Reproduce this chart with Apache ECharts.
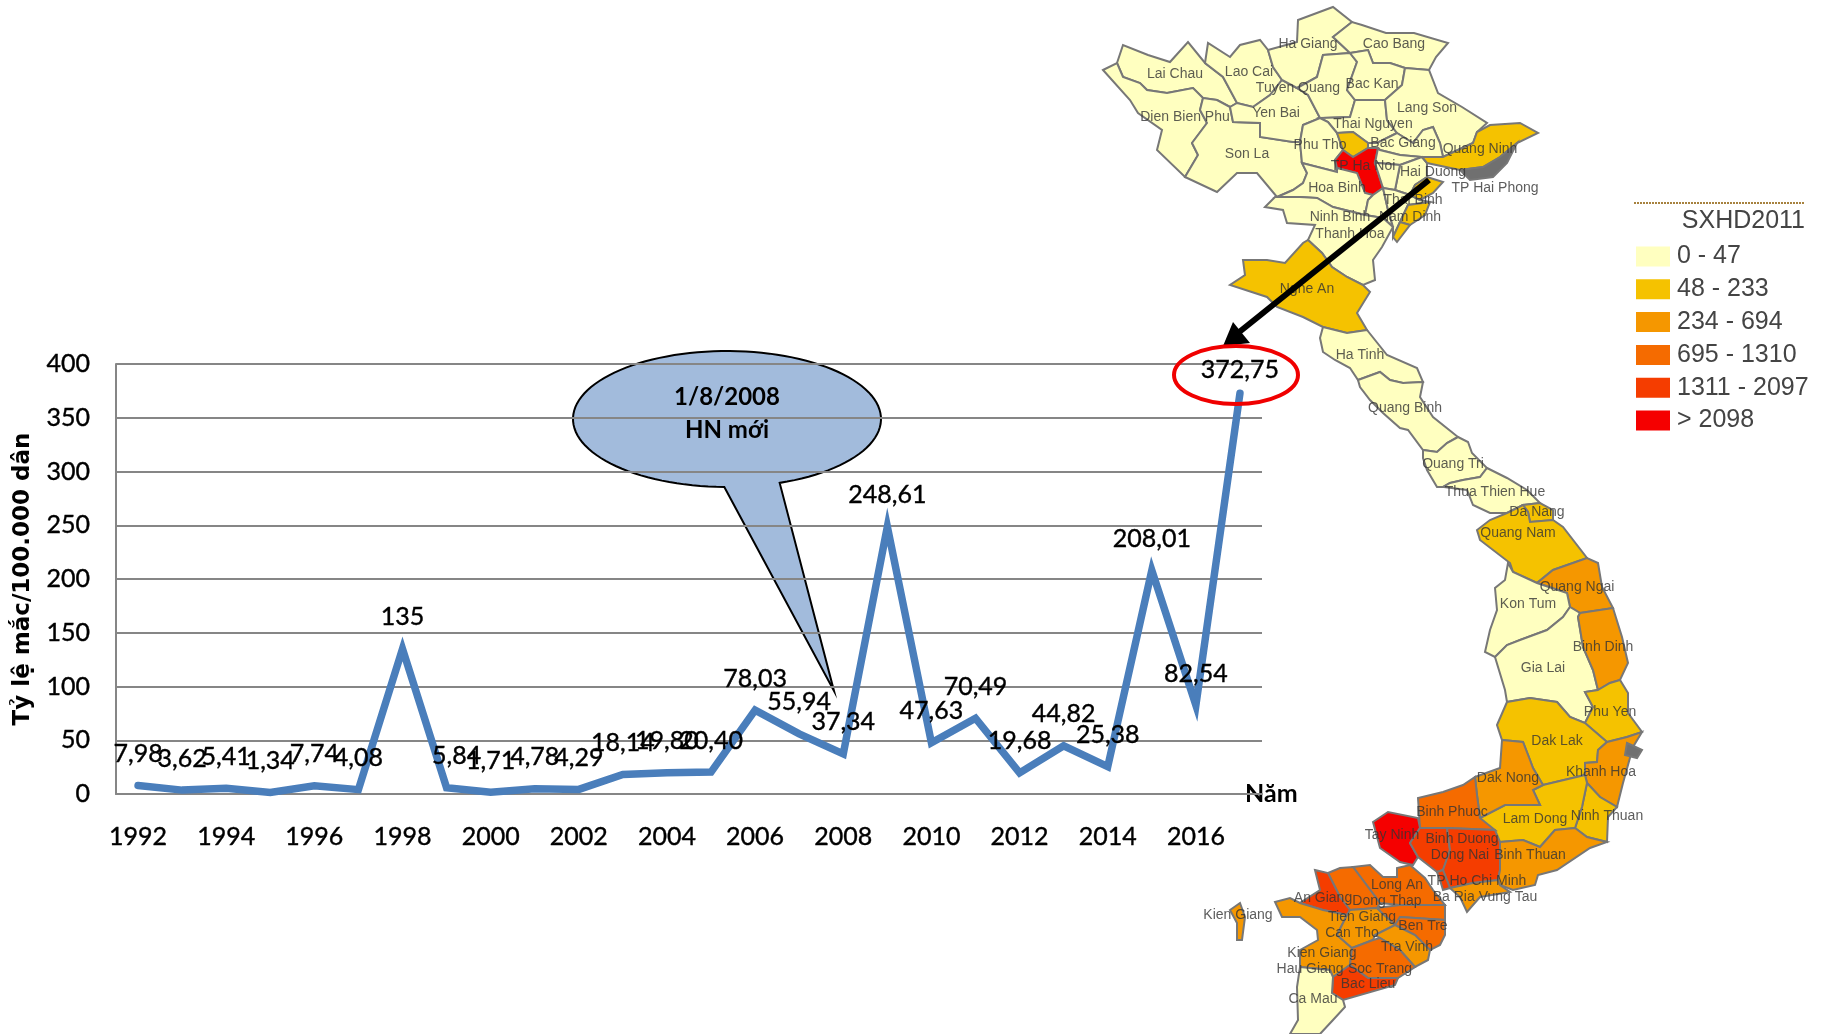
<!DOCTYPE html>
<html>
<head>
<meta charset="utf-8">
<title>Tỷ lệ mắc</title>
<script src="https://cdn.jsdelivr.net/npm/echarts@6/dist/echarts.min.js"></script>
<style>
  html, body { margin: 0; padding: 0; background: #fff; }
  #main { width: 1829px; height: 1034px; }
</style>
</head>
<body>
<div id="main"></div>
<script>
// so lieu bieu do duong
const years = ['1992','1993','1994','1995','1996','1997','1998','1999','2000','2001','2002','2003','2004','2005','2006','2007','2008','2009','2010','2011','2012','2013','2014','2015','2016','2017']
const rates = [7.98,3.62,5.41,1.34,7.74,4.08,135,5.84,1.71,4.78,4.29,18.14,19.80,20.40,78.03,55.94,37.34,248.61,47.63,70.49,19.68,44.82,25.38,208.01,82.54,372.75]
const rateLabels = ['7,98','3,62','5,41','1,34','7,74','4,08','135','5,84','1,71','4,78','4,29','18,14','19,80','20,40','78,03','55,94','37,34','248,61','47,63','70,49','19,68','44,82','25,38','208,01','82,54','372,75']
const yTicks = [0,50,100,150,200,250,300,350,400]

// chu giai ban do
const bandLabels = ['0 - 47','48 - 233','234 - 694','695 - 1310','1311 - 2097','> 2098']
const bandColors = ['#FFFFC0','#F5C200','#F59700','#F56B00','#F53D00','#F50000']

// nhom cua tung tinh (0-5 theo chu giai), doc tu mau tren anh
const provinceBands = {
  'Lai Chau':0,'Dien Bien':0,'Son La':0,'Lao Cai':0,'Yen Bai':0,'Ha Giang':0,'Tuyen Quang':0,'Cao Bang':0,'Bac Kan':0,
  'Thai Nguyen':0,'Lang Son':0,'Bac Giang':0,'Phu Tho':0,'Vinh Phuc':1,'Ha Noi':5,'Hoa Binh':0,'Bac Ninh':0,'Hai Duong':0,
  'Hung Yen':0,'Ninh Binh':0,'Nam Dinh':0,'Quang Ninh':1,'Hai Phong':1,'Thai Binh':1,'Nam Dinh Bien':1,'Thanh Hoa':0,
  'Nghe An':1,'Ha Tinh':0,'Quang Binh':0,'Quang Tri':0,'Thua Thien Hue':0,'Da Nang':1,'Quang Nam':1,'Quang Ngai':2,
  'Kon Tum':0,'Gia Lai':0,'Binh Dinh':2,'Phu Yen':1,'Dak Lak':1,'Khanh Hoa':2,'Ninh Thuan':1,'Lam Dong':1,'Dak Nong':2,
  'Binh Phuoc':3,'Tay Ninh':5,'Binh Duong':4,'Dong Nai':4,'TP Ho Chi Minh':4,'Binh Thuan':2,'Ba Ria Vung Tau':2,
  'Long An':3,'Dong Thap':3,'An Giang':4,'Kien Giang':2,'Can Tho':2,'Tien Giang':3,'Ben Tre':3,'Tra Vinh':2,
  'Soc Trang':3,'Bac Lieu':4,'Ca Mau':0
}

// ranh gioi tinh, do theo anh (toa do rieng cua ban do)
const provinceOutlines = {
  'Lai Chau':['1117,63 1123,45 1148,55 1170,62 1188,42 1205,63 1223,77 1237,103 1230,107 1217,100 1203,98 1193,88 1167,93 1147,90 1140,83 1123,77'],
  'Dien Bien':['1103,70 1117,63 1123,77 1140,83 1147,90 1167,93 1193,88 1203,98 1200,110 1207,123 1192,143 1198,155 1185,177 1157,150 1162,130 1138,113 1130,100'],
  'Son La':['1207,123 1200,110 1203,98 1217,100 1230,107 1233,122 1260,123 1260,137 1293,142 1300,142 1302,163 1307,173 1303,183 1293,190 1277,197 1257,173 1237,173 1217,192 1185,177 1198,155 1192,143'],
  'Lao Cai':['1205,63 1208,43 1230,57 1240,45 1260,40 1268,50 1273,67 1282,80 1270,95 1253,107 1237,103 1223,77'],
  'Yen Bai':['1230,107 1237,103 1253,107 1270,95 1282,80 1297,88 1308,95 1320,118 1303,125 1300,142 1293,142 1260,137 1260,123 1233,122'],
  'Ha Giang':['1268,50 1297,42 1298,20 1333,7 1352,22 1333,37 1350,53 1323,55 1317,77 1297,88 1282,80 1273,67'],
  'Tuyen Quang':['1323,55 1350,53 1357,62 1347,90 1355,100 1350,117 1320,118 1308,95 1297,88 1317,77'],
  'Cao Bang':['1333,37 1352,22 1362,25 1386,33 1414,33 1448,43 1436,57 1429,70 1405,68 1390,63 1373,63 1368,50 1350,53'],
  'Bac Kan':['1350,53 1368,50 1373,63 1390,63 1405,68 1402,85 1385,100 1367,100 1355,100 1347,90 1357,62'],
  'Thai Nguyen':['1355,100 1367,100 1385,100 1387,120 1397,133 1377,143 1368,143 1353,132 1337,133 1328,122 1320,118 1350,117'],
  'Lang Son':['1405,68 1429,70 1438,93 1462,107 1487,123 1477,132 1473,143 1443,157 1440,143 1433,127 1423,130 1413,143 1397,133 1387,120 1385,100 1402,85'],
  'Bac Giang':['1397,133 1413,143 1423,130 1433,127 1440,143 1443,157 1422,157 1400,155 1380,150 1378,148 1368,148 1368,143 1377,143'],
  'Phu Tho':['1303,125 1320,118 1328,122 1337,133 1343,150 1335,160 1337,172 1302,163 1300,142'],
  'Vinh Phuc':['1337,133 1353,132 1368,143 1368,148 1353,157 1343,150'],
  'Ha Noi':['1343,150 1353,157 1368,148 1378,148 1375,163 1383,188 1373,195 1365,193 1357,173 1337,168 1335,160'],
  'Hoa Binh':['1302,163 1337,172 1337,168 1357,173 1365,193 1373,195 1368,200 1365,215 1333,207 1317,198 1300,197 1277,197 1293,190 1303,183 1307,173'],
  'Bac Ninh':['1378,148 1380,150 1400,155 1422,157 1400,165 1378,163 1375,163'],
  'Hai Duong':['1400,165 1422,157 1427,163 1427,177 1415,185 1410,195 1395,190 1398,175'],
  'Hung Yen':['1375,163 1378,163 1400,165 1398,175 1395,190 1383,188'],
  'Ninh Binh':['1365,215 1368,200 1373,195 1383,188 1388,210 1393,227 1383,218'],
  'Nam Dinh':['1383,188 1395,190 1410,195 1420,200 1430,202 1408,205 1400,222 1393,237 1393,227 1388,210'],
  'Quang Ninh':['1422,157 1443,157 1473,143 1477,132 1490,125 1520,123 1538,133 1517,143 1500,157 1483,167 1460,170 1427,163'],
  'Hai Phong':['1427,177 1443,182 1433,193 1420,200 1410,195 1415,185'],
  'Thai Binh':['1408,205 1430,202 1425,215 1410,225 1400,222'],
  'Nam Dinh Bien':['1400,222 1410,225 1397,242 1393,237'],
  'Thanh Hoa':['1265,207 1275,197 1300,197 1317,198 1333,207 1365,215 1383,218 1393,227 1382,247 1373,260 1375,280 1363,285 1347,277 1332,267 1322,253 1308,240 1315,225 1287,223 1283,210'],
  'Nghe An':['1308,240 1322,253 1332,267 1347,277 1363,285 1370,292 1357,313 1367,330 1347,333 1323,327 1303,317 1277,307 1267,297 1230,285 1245,275 1243,260 1267,260 1285,263 1303,243'],
  'Ha Tinh':['1320,338 1323,327 1347,333 1367,330 1387,355 1417,368 1423,382 1403,383 1390,380 1380,372 1358,380 1350,368 1335,360 1323,352'],
  'Quang Binh':['1358,380 1380,372 1390,380 1403,383 1423,382 1420,397 1433,417 1458,437 1447,443 1437,452 1423,450 1408,430 1400,428 1383,413 1370,400 1360,387'],
  'Quang Tri':['1458,437 1468,442 1472,453 1487,468 1480,477 1463,480 1450,483 1443,487 1437,487 1427,470 1423,458 1423,450 1437,452 1447,443'],
  'Thua Thien Hue':['1487,468 1507,478 1527,490 1540,503 1523,505 1507,513 1490,513 1473,505 1467,490 1443,487 1450,483 1463,480 1480,477'],
  'Da Nang':['1523,505 1540,503 1553,510 1553,520 1530,522 1528,512'],
  'Quang Nam':['1507,513 1523,505 1528,512 1530,522 1553,520 1563,527 1587,558 1553,570 1537,583 1513,572 1510,563 1480,540 1477,530 1490,520'],
  'Quang Ngai':['1553,570 1587,558 1598,563 1602,587 1613,608 1580,613 1570,607 1567,593 1537,583'],
  'Kon Tum':['1508,563 1513,572 1537,583 1567,593 1570,607 1563,617 1547,630 1520,640 1507,645 1495,657 1485,652 1490,630 1497,610 1495,588 1505,580'],
  'Gia Lai':['1570,607 1580,613 1578,617 1583,647 1593,670 1598,690 1585,692 1593,707 1585,723 1570,717 1557,702 1530,698 1507,702 1505,690 1495,657 1507,645 1520,640 1547,630 1563,617'],
  'Binh Dinh':['1580,613 1613,608 1622,637 1628,663 1620,680 1610,683 1598,690 1593,670 1583,647 1578,617'],
  'Phu Yen':['1598,690 1610,683 1620,680 1628,693 1628,713 1642,732 1627,737 1607,742 1585,723 1593,707 1585,692'],
  'Dak Lak':['1497,725 1507,702 1530,698 1557,702 1570,717 1585,723 1607,742 1598,750 1597,762 1585,763 1585,775 1543,785 1533,768 1530,760 1523,742 1502,740'],
  'Khanh Hoa':['1607,742 1627,737 1642,732 1633,747 1623,783 1617,807 1600,797 1587,783 1585,775 1585,763 1597,762 1598,750'],
  'Ninh Thuan':['1587,783 1600,797 1617,807 1608,817 1607,842 1587,837 1575,828 1582,807'],
  'Lam Dong':['1543,785 1585,775 1587,783 1582,807 1575,828 1555,830 1540,847 1523,840 1500,842 1480,818 1505,805 1540,805 1533,790'],
  'Dak Nong':['1502,740 1523,742 1530,760 1533,768 1543,785 1533,790 1540,805 1505,805 1480,818 1477,795 1475,777 1500,768'],
  'Binh Phuoc':['1475,777 1477,795 1480,818 1495,830 1447,828 1420,828 1418,798 1443,792 1463,785'],
  'Tay Ninh':['1373,822 1388,812 1418,818 1420,828 1410,843 1418,857 1413,865 1400,862 1380,848'],
  'Binh Duong':['1420,828 1447,828 1450,850 1443,870 1437,872 1418,857 1410,843'],
  'Dong Nai':['1447,828 1495,830 1500,842 1500,870 1498,880 1473,883 1450,888 1443,870 1450,850'],
  'TP Ho Chi Minh':['1437,872 1443,870 1450,888 1443,890 1440,880'],
  'Binh Thuan':['1500,842 1523,840 1540,847 1555,830 1575,828 1587,837 1607,842 1590,848 1557,870 1538,875 1535,885 1513,890 1500,885 1498,880 1500,870'],
  'Ba Ria Vung Tau':['1473,883 1498,880 1500,885 1510,892 1480,897 1467,912 1460,897 1450,888'],
  'Long An':['1353,867 1370,865 1383,877 1397,877 1397,868 1410,865 1425,878 1433,890 1445,905 1400,905 1380,903'],
  'Dong Thap':['1328,873 1340,868 1353,867 1380,903 1377,908 1350,910 1340,897'],
  'An Giang':['1315,870 1328,873 1340,897 1350,910 1347,915 1323,910 1300,903 1320,890'],
  'Kien Giang':['1275,902 1290,898 1300,903 1323,910 1347,915 1337,935 1352,948 1350,965 1333,977 1330,970 1300,967 1300,950 1318,940 1317,930 1300,917 1282,917','1230,910 1240,903 1245,917 1242,940 1237,940 1237,923'],
  'Can Tho':['1347,915 1350,910 1377,908 1395,925 1375,935 1373,940 1352,948 1337,935'],
  'Tien Giang':['1377,908 1400,905 1445,905 1445,920 1400,917 1395,925'],
  'Ben Tre':['1400,917 1445,920 1445,935 1440,945 1430,950 1415,935 1395,925'],
  'Tra Vinh':['1395,925 1415,935 1430,950 1428,960 1415,967 1400,950 1380,938 1375,935'],
  'Soc Trang':['1352,948 1373,940 1380,938 1400,950 1415,967 1398,978 1368,978 1350,965'],
  'Bac Lieu':['1333,977 1350,965 1368,978 1398,978 1395,985 1343,1000 1332,993'],
  'Ca Mau':['1300,967 1330,970 1333,977 1332,993 1343,1000 1345,1007 1333,1020 1320,1034 1290,1034 1298,1020 1297,987'],
  'Dao Quang Ninh':['1517,143 1507,163 1493,177 1470,180 1460,170 1483,167 1500,157'],
  'Dao Khanh Hoa':['1627,743 1642,750 1637,758 1625,755']
}

// ten tinh tren ban do
const mapLabels = [
  ['Ha Giang',1308,44],['Cao Bang',1394,44],['Lai Chau',1175,74],['Lao Cai',1249,72],['Tuyen Quang',1298,88],['Bac Kan',1372,84],
  ['Lang Son',1427,108],['Dien Bien Phu',1185,117],['Yen Bai',1276,113],['Thai Nguyen',1373,124],['Phu Tho',1320,145],['Bac Giang',1403,143],
  ['Quang Ninh',1480,149],['Son La',1247,154],['TP Ha Noi',1363,166],['Hai Duong',1433,172],['TP Hai Phong',1495,188],['Hoa Binh',1337,188],
  ['Thai Binh',1413,200],['Ninh Binh',1340,217],['Nam Dinh',1410,217],['Thanh Hoa',1350,234],['Nghe An',1307,289],['Ha Tinh',1360,355],
  ['Quang Binh',1405,408],['Quang Tri',1453,464],['Thua Thien Hue',1495,492],['Da Nang',1537,512],['Quang Nam',1518,533],['Quang Ngai',1577,587],
  ['Kon Tum',1528,604],['Binh Dinh',1603,647],['Gia Lai',1543,668],['Phu Yen',1610,712],['Dak Lak',1557,741],['Khanh Hoa',1601,772],
  ['Dak Nong',1508,778],['Lam Dong',1535,819],['Ninh Thuan',1607,816],['Binh Phuoc',1452,812],['Tay Ninh',1392,835],['Binh Duong',1462,839],
  ['Dong Nai',1460,855],['Binh Thuan',1530,855],['Long An',1397,885],['TP Ho Chi Minh',1477,881],['Ba Ria Vung Tau',1485,897],['An Giang',1323,898],
  ['Dong Thap',1387,901],['Kien Giang',1238,915],['Tien Giang',1362,917],['Ben Tre',1423,926],['Can Tho',1352,933],['Tra Vinh',1407,947],
  ['Kien Giang',1322,953],['Hau Giang',1310,969],['Soc Trang',1380,969],['Bac Lieu',1368,984],['Ca Mau',1313,999]
]

const textFont = 'Lato, "Liberation Sans", sans-serif'

// dung GeoJSON tu ranh gioi o tren
const parseRing = s => {
  const ring = s.split(' ').map(p => p.split(',').map(Number))
  ring.push(ring[0])
  return ring
}
const vnGeo = {
  type: 'FeatureCollection',
  features: Object.keys(provinceOutlines).map(name => ({
    type: 'Feature',
    properties: { name },
    geometry: { type: 'MultiPolygon', coordinates: provinceOutlines[name].map(s => [parseRing(s)]) }
  }))
}
echarts.registerMap('vn', vnGeo)

// vong bong thoai: ellipse + duoi, ve bang polygon
const bubblePoints = () => {
  const pts = []
  const cx = 727, cy = 419, rx = 154, ry = 68
  // tu chan trai cua duoi, di qua dinh ellipse ve chan phai
  for (let a = 91; a <= 360 + 71; a += 3) {
    const r = a * Math.PI / 180
    pts.push([cx + rx * Math.cos(r), cy + ry * Math.sin(r)])
  }
  pts.push([834, 691])
  return pts
}

const chart = echarts.init(document.getElementById('main'))
chart.setOption({
  animation: false,
  textStyle: { fontFamily: textFont },
  grid: { left: 116, top: 364, width: 1146, height: 430 },
  xAxis: {
    type: 'category',
    data: years,
    name: 'Năm',
    nameLocation: 'end',
    nameGap: -17,
    nameTextStyle: { color: '#000', fontSize: 25, fontWeight: 'bold', fontFamily: textFont, verticalAlign: 'middle' },
    axisLine: { lineStyle: { color: '#868686', width: 2 } },
    axisTick: { show: false },
    axisLabel: { interval: 1, color: '#000', fontSize: 25, margin: 30, fontFamily: textFont, textBorderColor: '#000', textBorderWidth: 0.4 }
  },
  yAxis: {
    type: 'value',
    min: yTicks[0],
    max: yTicks[yTicks.length - 1],
    interval: 50,
    name: 'Tỷ lệ mắc/100.000 dân',
    nameLocation: 'middle',
    nameGap: 81,
    nameTextStyle: { color: '#000', fontSize: 23, fontWeight: 'bold', fontFamily: '"DejaVu Sans", sans-serif' },
    axisLine: { show: true, lineStyle: { color: '#868686', width: 2 } },
    axisTick: { show: false },
    axisLabel: { color: '#000', fontSize: 25, margin: 26, fontFamily: textFont, textBorderColor: '#000', textBorderWidth: 0.4 },
    splitLine: { lineStyle: { color: '#868686', width: 2 } }
  },
  geo: {
    map: 'vn',
    silent: true,
    roam: false,
    left: 1000,
    top: 0,
    width: 700,
    height: 1034,
    boundingCoords: [[1000, 0], [1700, 1034]],
    projection: { project: p => [p[0], p[1]], unproject: p => [p[0], p[1]] },
    itemStyle: { areaColor: '#707070', borderColor: '#777', borderWidth: 2 },
    emphasis: { disabled: true },
    select: { disabled: true }
  },
  visualMap: {
    type: 'piecewise',
    seriesIndex: 0,
    orient: 'vertical',
    align: 'left',
    left: 1636,
    top: 244,
    padding: 0,
    itemWidth: 34,
    itemHeight: 20,
    itemGap: 7.8,
    textGap: 7,
    itemSymbol: 'rect',
    selectedMode: false,
    hoverLink: false,
    inverse: true,
    pieces: bandLabels.map((label, i) => ({ value: i, label, color: bandColors[i] })),
    textStyle: { color: '#444', fontSize: 25, fontFamily: '"Liberation Sans", sans-serif' }
  },
  series: [
    {
      type: 'map',
      geoIndex: 0,
      data: Object.keys(provinceBands).map(name => ({ name, value: provinceBands[name] }))
    },
    {
      type: 'line',
      data: rates.map((v, i) => ({
        value: v,
        label: {
          formatter: rateLabels[i],
          distance: i === 25 ? 11 : 19,
          offset: i === 7 ? [10, 0] : [0, 0]
        }
      })),
      z: 5,
      silent: true,
      symbol: 'circle',
      symbolSize: 0,
      showAllSymbol: true,
      lineStyle: { color: '#4A7EBB', width: 7.5, cap: 'round', join: 'miter' },
      label: { show: true, position: 'top', color: '#000', fontSize: 25, fontFamily: textFont, textBorderColor: '#000', textBorderWidth: 0.4 }
    },
    {
      type: 'scatter',
      coordinateSystem: 'geo',
      silent: true,
      z: 3,
      symbolSize: 0,
      data: mapLabels.map(l => ({ name: l[0], value: [l[1], l[2]] })),
      label: {
        show: true,
        position: 'inside',
        formatter: '{b}',
        color: '#333',
        fontSize: 14,
        fontFamily: '"Liberation Sans", sans-serif'
      }
    }
  ],
  graphic: [
    // bong thoai nam duoi luoi
    {
      type: 'polygon',
      z: -1,
      silent: true,
      shape: { points: bubblePoints() },
      style: { fill: '#A2BBDC', stroke: '#000', lineWidth: 2 }
    },
    {
      type: 'text', z: 6, silent: true, x: 727, y: 397,
      style: { text: '1/8/2008', fill: '#000', font: 'bold 24px ' + textFont, textAlign: 'center', textVerticalAlign: 'middle' }
    },
    {
      type: 'text', z: 6, silent: true, x: 727, y: 430,
      style: { text: 'HN mới', fill: '#000', font: 'bold 24px ' + textFont, textAlign: 'center', textVerticalAlign: 'middle' }
    },
    // mui ten den + vong do
    {
      type: 'line', z: 7, silent: true,
      shape: { x1: 1429, y1: 180, x2: 1238, y2: 333 },
      style: { stroke: '#000', lineWidth: 6 }
    },
    {
      type: 'polygon', z: 7, silent: true,
      shape: { points: [[1223, 346], [1233, 322], [1250, 343]] },
      style: { fill: '#000' }
    },
    {
      type: 'ellipse', z: 8, silent: true,
      shape: { cx: 1236, cy: 375, rx: 62, ry: 29 },
      style: { fill: 'none', stroke: '#F00000', lineWidth: 4 }
    },
    // tieu de chu giai
    {
      type: 'line', z: 6, silent: true,
      shape: { x1: 1634, y1: 203, x2: 1805, y2: 203 },
      style: { stroke: '#8A5A00', lineWidth: 1.5, lineDash: [2, 1] }
    },
    {
      type: 'text', z: 6, silent: true, x: 1805, y: 221,
      style: { text: 'SXHD2011', fill: '#444', font: '25px "Liberation Sans", sans-serif', textAlign: 'right', textVerticalAlign: 'middle' }
    }
  ]
})
</script>
</body>
</html>
